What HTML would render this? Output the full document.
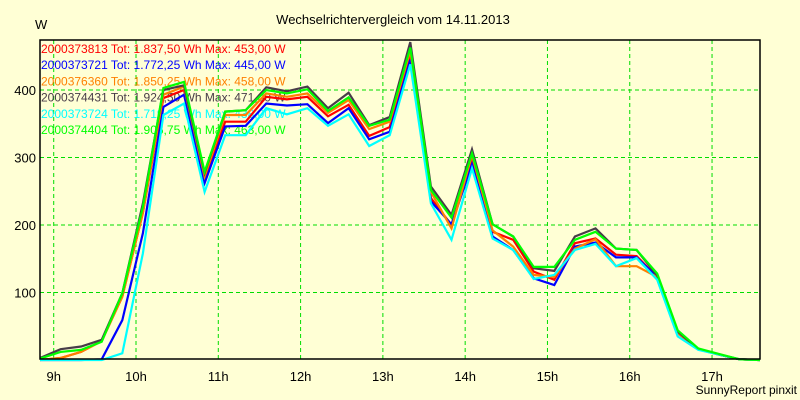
<!DOCTYPE html>
<html><head><meta charset="utf-8">
<style>
html,body{margin:0;padding:0;background:#ffffd5;}
svg{display:block;font-family:"Liberation Sans",sans-serif;}
</style></head>
<body>
<svg id="chart" width="800" height="400" viewBox="0 0 800 400" xmlns="http://www.w3.org/2000/svg">
<rect x="0" y="0" width="800" height="400" fill="#ffffd5"/>
<text x="393" y="24" font-size="13" text-anchor="middle" fill="#000">Wechselrichtervergleich vom 14.11.2013</text>
<text x="35" y="29" font-size="13" fill="#000">W</text>
<text x="797" y="394" font-size="12" text-anchor="end" fill="#000">SunnyReport pinxit</text>
<g id="grid"></g>
<g id="legend"></g>
<g id="series"></g>
<rect x="40" y="40" width="720" height="319" fill="none" stroke="#000" stroke-width="1.5"/>
<g id="axes"></g>
</svg>
<script>
// time axis: 15-minute samples starting 08:50 (minutes since midnight)
const startMin = 530;
const stepMin = 15;
const xTicks = [9,10,11,12,13,14,15,16,17];
const yTicks = [100,200,300,400];
const seriesNames = ["2000373813","2000373721","2000376360","2000374431","2000373724","2000374404"];
const seriesColors = ["#ff0000","#0000ff","#ff8000","#483c48","#00ffff","#00ff00"];
const legendTexts = [
 "2000373813 Tot: 1.837,50 Wh Max: 453,00 W",
 "2000373721 Tot: 1.772,25 Wh Max: 445,00 W",
 "2000376360 Tot: 1.850,25 Wh Max: 458,00 W",
 "2000374431 Tot: 1.924,50 Wh Max: 471,00 W",
 "2000373724 Tot: 1.719,25 Wh Max: 438,00 W",
 "2000374404 Tot: 1.906,75 Wh Max: 463,00 W"];
const red    = [0,3,12,28,94,218,388,400,270,353,353,390,386,390,361,378,332,345,453,240,200,299,190,178,131,119,173,180,156,154,123,40,16,8,1,0];
const blue   = [0,0,0,1,59,188,375,393,262,346,347,380,377,379,351,373,327,338,445,235,201,290,183,163,121,111,168,174,152,152,123,40,16,8,1,0];
const orange = [0,3,12,28,94,218,393,405,272,363,363,395,390,395,366,385,342,353,458,249,195,304,192,168,126,123,165,179,139,139,123,40,16,8,1,0];
const dark   = [3,16,20,30,99,232,400,407,277,368,370,404,398,405,373,396,348,360,471,257,215,312,201,183,136,132,183,195,165,163,125,42,16,8,1,0];
const cyan   = [0,0,0,0,10,158,363,380,249,333,333,373,364,373,347,364,317,333,438,232,178,284,180,163,120,126,163,172,139,151,119,35,15,8,1,0];
const green  = [2,12,15,27,99,227,403,412,279,368,370,400,395,401,369,389,347,356,463,252,211,306,201,183,138,138,178,190,165,163,128,44,17,9,1,0];
const seriesData = [red,blue,orange,dark,cyan,green];

const NS="http://www.w3.org/2000/svg";
const pxPerHour = 82.29;
function xScale(min){ return 40 + (min - startMin)/60*pxPerHour; }
function yScale(v){ return 360 - v*0.675; }
function mk(tag, attrs, parent){ const e=document.createElementNS(NS,tag); for(const k in attrs) e.setAttribute(k,attrs[k]); parent.appendChild(e); return e; }

const grid=document.getElementById('grid');
const axes=document.getElementById('axes');
xTicks.forEach(h=>{
  const x=xScale(h*60);
  const l=mk('line',{x1:x,x2:x,y1:40,y2:359,stroke:'#00dd00','stroke-dasharray':'4,3','stroke-width':1},grid);
  
  
  const t=mk('text',{x:x,y:381,'font-size':13,'text-anchor':'middle',fill:'#000'},axes);
  t.textContent=h+'h';
  
  
});
yTicks.forEach(v=>{
  const y=yScale(v);
  const l=mk('line',{x1:40,x2:760,y1:y,y2:y,stroke:'#00dd00','stroke-dasharray':'4,3','stroke-width':1},grid);
  
  
  const t=mk('text',{x:36,y:y+5,'font-size':13,'text-anchor':'end',fill:'#000'},axes);
  t.textContent=v;
  
  
});
const legend=document.getElementById('legend');
legendTexts.forEach((s,i)=>{
  const t=mk('text',{x:41,y:53+i*16.2,'font-size':12,fill:seriesColors[i]},legend);
  t.textContent=s;
  
  
});
const sg=document.getElementById('series');
seriesData.forEach((arr,i)=>{
  const pts=arr.map((v,k)=>xScale(startMin+k*stepMin).toFixed(1)+','+yScale(v).toFixed(1)).join(' ');
  const p=mk('polyline',{points:pts,fill:'none',stroke:seriesColors[i],'stroke-width':2.2,'stroke-linejoin':'miter'},sg);
  
  
});
</script>
</body></html>
